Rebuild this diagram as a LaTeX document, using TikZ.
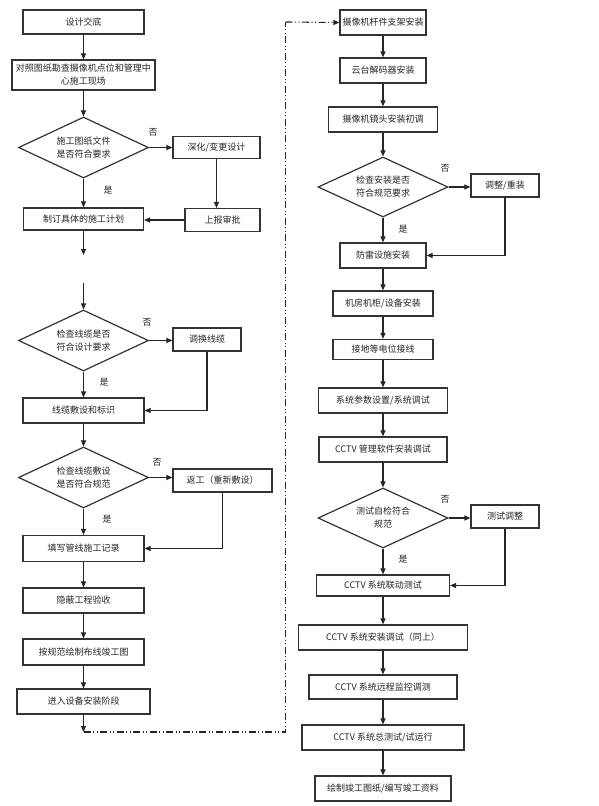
\documentclass[tikz,border=0pt]{standalone}
\usepackage{fontspec}
\newfontfamily\cjk{Noto Sans CJK SC}
\usetikzlibrary{arrows.meta,shapes.geometric}
\begin{document}
\begin{tikzpicture}[x=1pt,y=-1pt,
  txt/.style={font=\cjk\fontsize{9}{13}\selectfont, text=black!85},
  box/.style={txt, draw=black!80, line width=1.2pt, rectangle, inner sep=0pt, align=center},
  dia/.style={txt, draw=black!80, line width=1.2pt, diamond, inner sep=0pt, shape aspect=2.13,
              minimum width=130pt, minimum height=61pt, align=center},
  arr/.style={draw=black!85, line width=1.1pt, -{Triangle[length=6pt,width=5pt]}},
  ddl/.style={draw=black!85, line width=1.1pt, dash pattern=on 7pt off 2.5pt on 1pt off 2.5pt on 1pt off 2.5pt},
  lbl/.style={txt}]
\useasboundingbox (0,0) rectangle (598,806);
\fill[white] (0,0) rectangle (598,806);

% ---------------- left column ----------------
\node[box, minimum width=121pt, minimum height=24pt] (l1) at (83.5,22) {设计交底};
\node[box, minimum width=143pt, minimum height=30pt] (l2) at (83.5,75) {对照图纸勘查摄像机点位和管理中\\心施工现场};
\node[dia] (d1) at (83.5,147.5) {施工图纸文件\\是否符合要求};
\node[box, minimum width=87pt, minimum height=22pt] (sh) at (216.5,147.5) {深化/变更设计};
\node[box, minimum width=120pt, minimum height=22pt] (zd) at (83.5,219) {制订具体的施工计划};
\node[box, minimum width=75pt, minimum height=23pt] (sb) at (222.5,220) {上报审批};
\coordinate (s1) at (83.5,255);
\coordinate (s2) at (83.5,283);
\node[dia] (d2) at (83.5,340.5) {检查线缆是否\\符合设计要求};
\node[box, minimum width=68pt, minimum height=23pt] (hx) at (207,339.5) {调换线缆};
\node[box, minimum width=121pt, minimum height=25pt] (xl) at (83.5,410.5) {线缆敷设和标识};
\node[dia] (d3) at (83.5,477.5) {检查线缆敷设\\是否符合规范};
\node[box, minimum width=99pt, minimum height=23pt] (fg) at (222.5,480.5) {返工（重新敷设）};
\node[box, minimum width=121pt, minimum height=26pt] (tx) at (83.5,548.5) {填写管线施工记录};
\node[box, minimum width=121pt, minimum height=25pt] (yb) at (83.5,600.5) {隐蔽工程验收};
\node[box, minimum width=121pt, minimum height=26pt] (aj) at (83.5,652) {按规范绘制布线竣工图};
\node[box, minimum width=133pt, minimum height=25pt] (jr) at (83.5,701.5) {进入设备安装阶段};
\coordinate (e1) at (83.5,732);
\coordinate (c1) at (285.5,732);
\coordinate (c2) at (285.5,22);

\node[lbl] (n1) at (153,132) {否};
\node[lbl] (y1) at (108,190) {是};
\node[lbl] (n2) at (147,322) {否};
\node[lbl] (y2) at (104,382) {是};
\node[lbl] (n3) at (157,462) {否};
\node[lbl] (y3) at (107,519) {是};

\draw[arr] (l1) -- (l2);
\draw[arr] (l2) -- (d1);
\draw[arr] (d1.east) -- (d1.east -| sh.west);
\draw[arr] (d1.south) -- (zd.north);
\draw[arr] (sh.south) -- (sh.south |- sb.north);
\draw[arr] (sb.west) -- (sb.west -| zd.east);
\draw[arr] (zd.south) -- (s1);
\draw[arr] (s2) -- (d2.north);
\draw[arr] (d2.east) -- (d2.east -| hx.west);
\draw[arr] (d2.south) -- (xl.north);
\draw[arr] (hx.south) |- (xl.east);
\draw[arr] (xl.south) -- (d3.north);
\draw[arr] (d3.east) -- (d3.east -| fg.west);
\draw[arr] (d3.south) -- (tx.north);
\draw[arr] (fg.south) |- (tx.east);
\draw[arr] (tx) -- (yb);
\draw[arr] (yb) -- (aj);
\draw[arr] (aj) -- (jr);
\draw[arr] (jr.south) -- (e1);

% ---------------- right column ----------------
\node[box, minimum width=86pt, minimum height=25pt] (r1) at (383,22.5) {摄像机杆件支架安装};
\node[box, minimum width=86pt, minimum height=25pt] (r2) at (383,70.5) {云台解码器安装};
\node[box, minimum width=109pt, minimum height=25pt] (r3) at (383,119.5) {摄像机镜头安装初调};
\node[dia, minimum height=60pt] (d4) at (383,187) {检查安装是否\\符合规范要求};
\node[box, minimum width=68pt, minimum height=23pt] (tz) at (505,185.5) {调整/重装};
\node[box, minimum width=86pt, minimum height=25pt] (r5) at (383,255.5) {防雷设施安装};
\node[box, minimum width=100pt, minimum height=25pt] (r6) at (383,303.5) {机房机柜/设备安装};
\node[box, minimum width=100pt, minimum height=20pt] (r7) at (383,349.5) {接地等电位接线};
\node[box, minimum width=129pt, minimum height=25pt] (r8) at (383,400.5) {系统参数设置/系统调试};
\node[box, minimum width=128pt, minimum height=25pt] (r9) at (383,449.5) {CCTV 管理软件安装调试};
\node[dia, minimum height=60pt] (d5) at (383,518) {测试自检符合\\规范};
\node[box, minimum width=68pt, minimum height=23pt] (ct) at (505,516.5) {测试调整};
\node[box, minimum width=133pt, minimum height=21pt] (r10) at (383,585.5) {CCTV 系统联动测试};
\node[box, minimum width=169pt, minimum height=25pt] (r11) at (383,637.5) {CCTV 系统安装调试（同上）};
\node[box, minimum width=148pt, minimum height=24pt] (r12) at (383,687) {CCTV 系统远程监控调测};
\node[box, minimum width=162pt, minimum height=25pt] (r13) at (383,737.5) {CCTV 系统总测试/试运行};
\node[box, minimum width=136pt, minimum height=25pt] (r14) at (383,788.5) {绘制竣工图纸/编写竣工资料};

\node[lbl] (n4) at (445,168) {否};
\node[lbl] (y4) at (403,229) {是};
\node[lbl] (n5) at (445,499) {否};
\node[lbl] (y5) at (403,559) {是};

\draw[arr] (r1) -- (r2);
\draw[arr] (r2) -- (r3);
\draw[arr] (r3) -- (d4);
\draw[arr] (d4.east) -- (d4.east -| tz.west);
\draw[arr] (d4.south) -- (r5.north);
\draw[arr] (tz.south) |- (r5.east);
\draw[arr] (r5) -- (r6);
\draw[arr] (r6) -- (r7);
\draw[arr] (r7) -- (r8);
\draw[arr] (r8) -- (r9);
\draw[arr] (r9) -- (d5);
\draw[arr] (d5.east) -- (d5.east -| ct.west);
\draw[arr] (d5.south) -- (r10.north);
\draw[arr] (ct.south) |- (r10.east);
\draw[arr] (r10) -- (r11);
\draw[arr] (r11) -- (r12);
\draw[arr] (r12) -- (r13);
\draw[arr] (r13) -- (r14);

% dash-dot connector between the columns
\draw[ddl] (e1) -- (c1) -- (c2);
\draw[ddl, -{Triangle[length=6pt,width=5pt]}] (c2) -- (r1.west);
\end{tikzpicture}
\end{document}
